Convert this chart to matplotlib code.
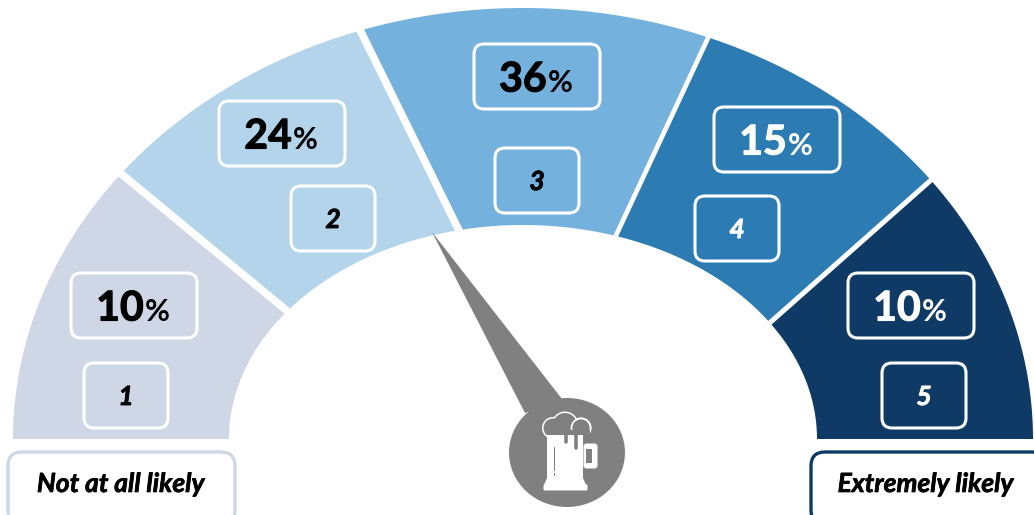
import numpy as np
import matplotlib
matplotlib.use("Agg")
import matplotlib.pyplot as plt
import matplotlib.patheffects as pe
from matplotlib.patches import Polygon, FancyBboxPatch, Ellipse, Rectangle

W, H = 1034, 515
categories = ["1", "2", "3", "4", "5"]
percent_labels = ["10", "24", "36", "15", "10"]
colors = ["#CFD7E7", "#B4D4EC", "#74B1DD", "#2C7BB2", "#103A66"]
text_colors = ["black", "black", "black", "white", "white"]
outer_edges = [180, 142, 108.6, 68.7, 36.9, 0]
inner_edges = [180, 143.3, 102.6, 71.6, 32.9, 0]
gap_widths = [5.5, 5.5, 3.4, 3.6]
pct_boxes = [(71, 273), (219, 101), (474, 44), (714, 107), (848, 273)]
num_boxes = [(84, 363), (291, 186), (495, 148), (695, 196), (882, 363)]

CX, CY = 523, 439
RXO, RYO, RXI, RYI = 510, 431, 294, 214

plt.rcParams["font.family"] = ["Lato", "DejaVu Sans"]
fig = plt.figure(figsize=(W / 100, H / 100), dpi=100)
ax = fig.add_axes([0, 0, 1, 1])
ax.set_xlim(0, W)
ax.set_ylim(H, 0)
ax.axis("off")

def pt(a, rx, ry):
    r = np.radians(a)
    return CX + rx * np.cos(r), CY - ry * np.sin(r)

for i in range(5):
    ao = np.linspace(outer_edges[i], outer_edges[i + 1], 80)
    ai = np.linspace(inner_edges[i + 1], inner_edges[i], 80)
    xo, yo = pt(ao, RXO, RYO)
    xi, yi = pt(ai, RXI, RYI)
    ax.add_patch(Polygon(np.c_[np.r_[xo, xi], np.r_[yo, yi]], closed=True, fc=colors[i], ec="none", zorder=1))
for k in range(4):
    xa, ya = pt(inner_edges[k + 1], RXI, RYI)
    xb, yb = pt(outer_edges[k + 1], RXO, RYO)
    dx, dy = xb - xa, yb - ya
    ax.plot([xa - 0.03 * dx, xb + 0.03 * dx], [ya - 0.03 * dy, yb + 0.03 * dy],
            color="white", lw=gap_widths[k], zorder=2, solid_capstyle="butt")

def rbox(x, y, w, h, fc, ec, lw=2.2, rad=10):
    ax.add_patch(FancyBboxPatch((x + rad, y + rad), w - 2 * rad, h - 2 * rad,
                                boxstyle=f"round,pad={rad},rounding_size={rad}",
                                fc=fc, ec=ec, lw=lw, zorder=3))

def heavy(color, w=0.5):
    return [pe.withStroke(linewidth=w, foreground=color)]

for i in range(5):
    x, y = pct_boxes[i]
    rbox(x, y, 126, 65, colors[i], "white")
    ax.text(x + 49, y + 36, percent_labels[i], fontsize=29.5, fontweight="bold", color=text_colors[i],
            ha="center", va="center", zorder=4, path_effects=heavy(text_colors[i], 0.8))
    ax.text(x + 86, y + 39, "%", fontsize=22, fontweight="bold", color=text_colors[i],
            ha="center", va="center", zorder=4)
    nx, ny = num_boxes[i]
    rbox(nx, ny, 84, 65, colors[i], "white")
    ax.text(nx + 42, ny + 34, categories[i], fontsize=19, fontweight="bold", style="italic",
            color=text_colors[i], ha="center", va="center", zorder=4, path_effects=heavy(text_colors[i], 0.6))

rbox(8, 452, 227, 72, "white", "#CFD7E7", lw=2.4, rad=14)
rbox(811, 452, 235, 72, "white", "#103A66", lw=2.4, rad=14)
for tx, label in [(120.5, "Not at all likely"), (925.5, "Extremely likely")]:
    ax.text(tx, 484, label, fontsize=19, fontweight="bold", style="italic", ha="center", va="center",
            zorder=4, path_effects=heavy("black", 0.5))

# needle and mug icon
gray = "#808080"
ax.add_patch(Polygon([(432, 232), (562, 399), (525, 413)], closed=True, fc=gray, ec="none", zorder=5))
ax.add_patch(Ellipse((567, 452.5), 116, 109, fc=gray, ec="none", zorder=5))
ax.add_patch(Polygon([(547, 434), (583, 434), (583, 478), (586, 485), (544, 485), (547, 478)],
                     closed=True, fc="white", ec="none", zorder=6))
ax.add_patch(FancyBboxPatch((544, 485), 43, 5, boxstyle="round,pad=0.5,rounding_size=1", fc="white", ec="none", zorder=6))
ax.add_patch(FancyBboxPatch((584, 444), 13, 24, boxstyle="round,pad=0.5,rounding_size=3", fc="white", ec="none", zorder=6))
ax.add_patch(Rectangle((586, 449), 6, 14, fc=gray, ec="none", zorder=7))
ax.add_patch(Rectangle((553.5, 447), 1.5, 24, fc=gray, ec="none", zorder=7))
ax.add_patch(Rectangle((553.5, 472.5), 1.5, 3, fc=gray, ec="none", zorder=7))
foam = [(553, 428, 9.5), (565, 425, 12), (581, 428, 9)]
for cx, cy, r in foam:
    ax.add_patch(Ellipse((cx, cy), 2 * r + 3, 2 * r + 3, fc="white", ec="none", zorder=8))
for cx, cy, r in foam:
    ax.add_patch(Ellipse((cx, cy), 2 * r, 2 * r, fc=gray, ec="none", zorder=8.2))
ax.add_patch(Rectangle((549, 428), 38, 7, fc=gray, ec="none", zorder=8.3))
ax.add_patch(Ellipse((581, 428), 19, 19, fc="none", ec="white", lw=1.2, zorder=8.4))
ax.add_patch(Rectangle((570, 430), 20, 8, fc=gray, ec="none", zorder=8.5))
ax.add_patch(Rectangle((583, 434), 8, 6, fc=gray, ec="none", zorder=8.5))
ax.add_patch(Rectangle((547, 435), 36, 4, fc="white", ec="none", zorder=8.6))
for x, y0, y1 in [(566, 433, 442), (576, 433, 448)]:
    ax.plot([x, x], [y0, y1], color=gray, lw=2.6, solid_capstyle="round", zorder=10)

fig.savefig("out.png", dpi=100, facecolor="white")
